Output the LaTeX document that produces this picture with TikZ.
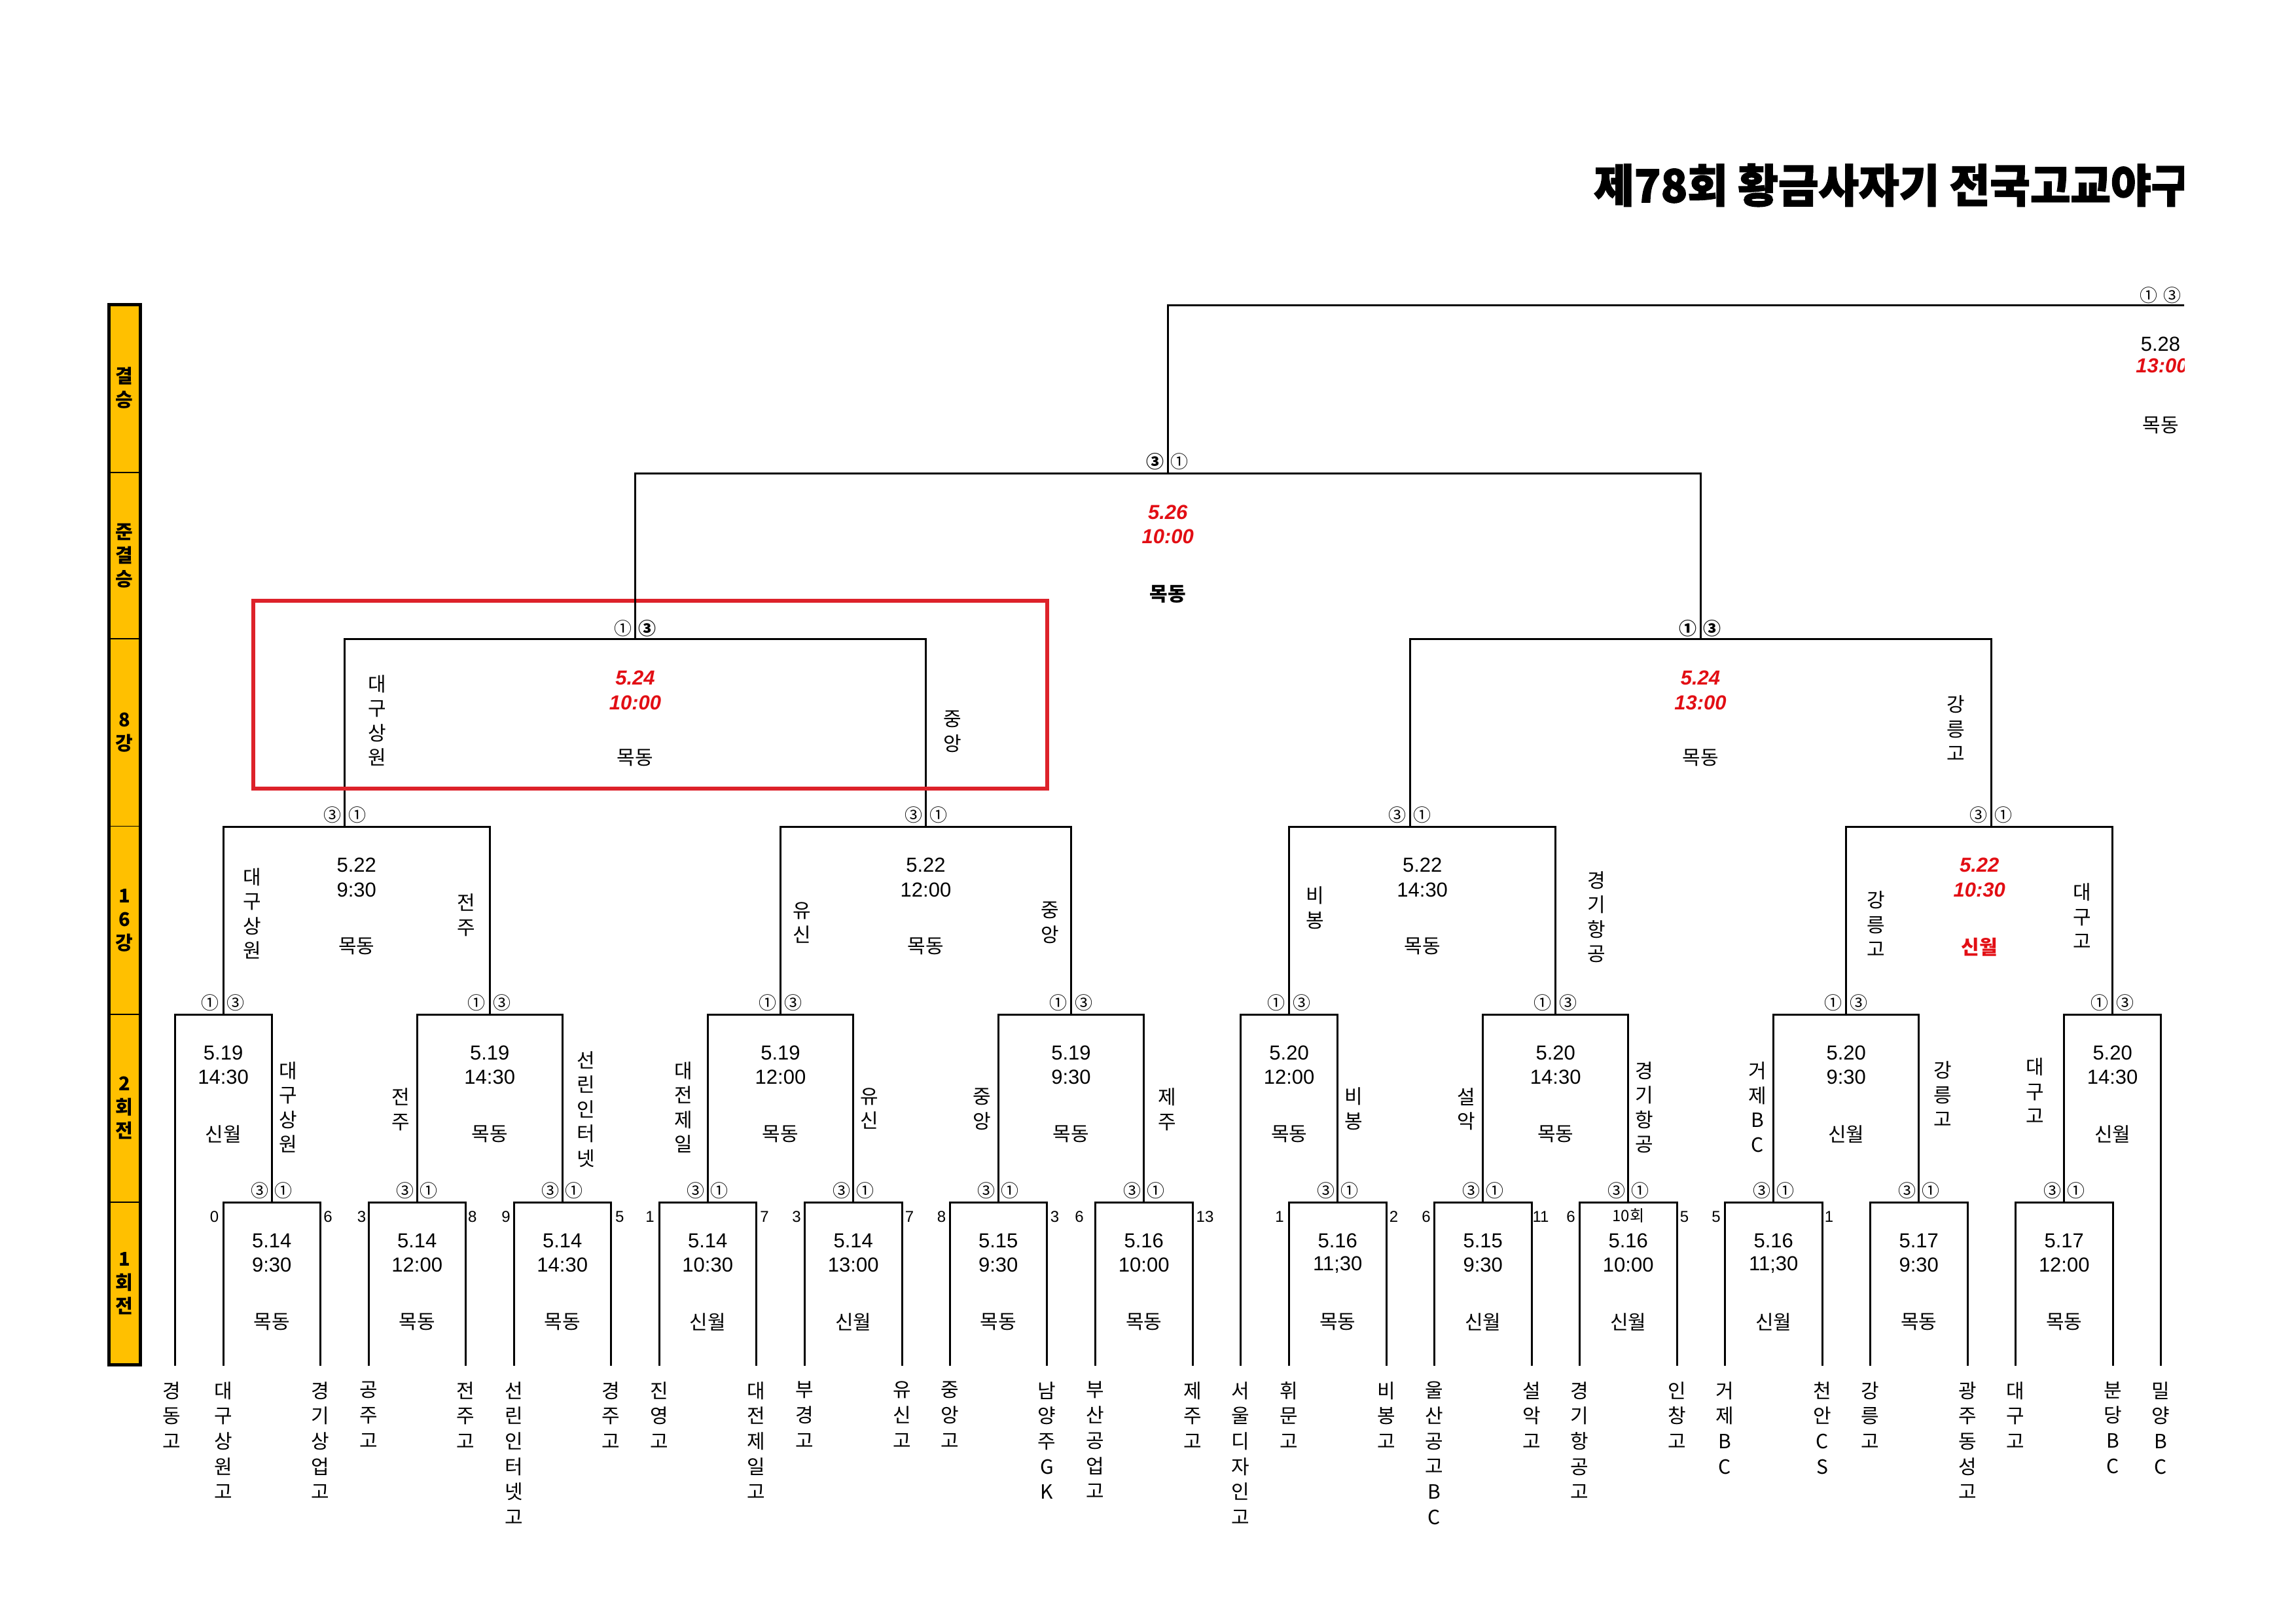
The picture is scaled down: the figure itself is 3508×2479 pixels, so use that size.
\documentclass[tikz,border=0pt]{standalone}
\usepackage{fontspec}
\setmainfont{Liberation Sans}
\newfontfamily\kr{Noto Sans CJK KR}
\newfontfamily\krh{Noto Sans CJK KR}[BoldFeatures={FakeBold=2}]
\definecolor{gold}{RGB}{255,192,0}
\definecolor{redbox}{RGB}{221,34,42}
\definecolor{redtxt}{RGB}{226,14,20}
\tikzset{
  br/.style={line width=3pt, line cap=rect},
  dt/.style={inner sep=0pt, font=\fontsize{31}{37}\selectfont},
  rdt/.style={inner sep=0pt, text=redtxt, font=\fontsize{31}{37}\selectfont\bfseries\itshape},
  ven/.style={inner sep=0pt, font=\kr\fontsize{30}{36}\selectfont},
  vlab/.style={inner sep=0pt, align=center, font=\kr\fontsize{30}{37.5}\selectfont},
  tname/.style={inner sep=0pt, align=center, anchor=north, font=\kr\fontsize{30}{38.7}\selectfont},
  sc/.style={inner sep=0pt, font=\fontsize{24}{26}\selectfont},
  cn/.style={inner sep=0pt, font=\kr\fontsize{27}{28}\selectfont},
  cnb/.style={inner sep=0pt, font=\kr\bfseries\fontsize{27}{28}\selectfont},
  side/.style={inner sep=0pt, align=center, font=\kr\bfseries\fontsize{29}{36}\selectfont},
}
\begin{document}
\begin{tikzpicture}[x=1pt,y=-1pt]
\useasboundingbox (0,0) rectangle (3508,2479);
\begin{scope}
\clip (0,0) rectangle (3337,2479);
% ---------- side bar ----------
\fill[gold] (166,465) rectangle (214.5,2085);
\foreach \yy in {722,976,1262.5,1550,1837} \draw[line width=1.5pt] (166,\yy) -- (214.5,\yy);
\draw[line width=5pt] (166,465) rectangle (214.5,2085);
\node[side] (s1) at (190,593) {결\\승};
\node[side] (s2) at (190,849) {준\\결\\승};
\node[side] (s3) at (190,1119) {8\\강};
\node[side] (s4) at (190,1406) {1\\6\\강};
\node[side] (s5) at (190,1693) {2\\회\\전};
\node[side] (s6) at (190,1961) {1\\회\\전};
% ---------- title ----------
\node[anchor=west, inner sep=0pt, font=\krh\bfseries\fontsize{62}{62}\selectfont] (title) at (2435,283) {\scalebox{1.08}[1.12]{제78회 황금사자기 전국고교야구}};
% ---------- round 1 ----------
\foreach \i/\xl/\da/\ti/\ve in {1/341/5.14/9:30/목동, 2/563/5.14/12:00/목동, 3/785/5.14/14:30/목동,
  4/1007/5.14/10:30/신월, 5/1229.5/5.14/13:00/신월, 6/1451/5.15/9:30/목동, 7/1673.5/5.16/10:00/목동,
  8/1969.5/5.16/11;30/목동, 9/2191.5/5.15/9:30/신월, 10/2413.5/5.16/10:00/신월, 11/2635.5/5.16/11;30/신월,
  12/2857.5/5.17/9:30/목동, 13/3079.5/5.17/12:00/목동}{
  \pgfmathsetmacro\xr{\xl+148.5}
  \pgfmathsetmacro\xc{\xl+74.25}
  \draw[br] (\xl,2085) -- (\xl,1837) -- (\xr,1837) -- (\xr,2085);
  \node[dt] (a\i d) at (\xc,1896) {\da};
  \node[dt] (a\i t) at (\xc,1933) {\ti};
  \node[ven] (a\i v) at (\xc,2020) {\ve};
  \node[cn] (a\i m3) at (\xc-18,1819) {③};
  \node[cn] (a\i m1) at (\xc+18,1819) {①};
}
\foreach \k/\x/\s in {1/327.5/0, 2/501/6, 3/552.5/3, 4/721.7/8, 5/773/9, 6/946.7/5, 7/993/1, 8/1168/7,
  9/1217/3, 10/1389.5/7, 11/1438.5/8, 12/1611.5/3, 13/1649/6, 14/1841/13, 15/1955/1, 16/2129.6/2,
  17/2179/6, 18/2354/11, 19/2400/6, 20/2573.5/5, 21/2622/5, 22/2794.6/1}{
  \node[sc] (sc\k) at (\x,1859) {\s};
}
\node[inner sep=0pt, font=\kr\fontsize{24}{26}\selectfont] (extra) at (2487.75,1857) {10회};
% ---------- round 2 ----------
\foreach \i/\xl/\xr/\yl/\yr/\da/\ti/\ve in {1/267/415.25/2085/1837/5.19/14:30/신월,
  2/637.25/859.25/1837/1837/5.19/14:30/목동, 3/1081.25/1303.75/1837/1837/5.19/12:00/목동,
  4/1525.25/1747.75/1837/1837/5.19/9:30/목동, 5/1895.5/2043.75/2085/1837/5.20/12:00/목동,
  6/2265.75/2487.75/1837/1837/5.20/14:30/목동, 7/2709.75/2931.75/1837/1837/5.20/9:30/신월,
  8/3153.75/3301.5/1837/2085/5.20/14:30/신월}{
  \pgfmathsetmacro\xc{(\xl+\xr)/2}
  \draw[br] (\xl,\yl) -- (\xl,1550) -- (\xr,1550) -- (\xr,\yr);
  \node[dt] (b\i d) at (\xc,1609) {\da};
  \node[dt] (b\i t) at (\xc,1646) {\ti};
  \node[ven] (b\i v) at (\xc,1733) {\ve};
  \node[cn] (b\i m1) at (\xc-20,1532) {①};
  \node[cn] (b\i m3) at (\xc+19,1532) {③};
}
\node[vlab] (l21) at (440,1692) {대\\구\\상\\원};
\node[vlab] (l22) at (612,1695) {전\\주};
\node[vlab] (l23) at (895,1695) {선\\린\\인\\터\\넷};
\node[vlab] (l24) at (1044.5,1692) {대\\전\\제\\일};
\node[vlab] (l25) at (1328,1694) {유\\신};
\node[vlab] (l26) at (1500.5,1695) {중\\앙};
\node[vlab] (l27) at (1783.7,1695) {제\\주};
\node[vlab] (l28) at (2068.4,1694) {비\\봉};
\node[vlab] (l29) at (2240.6,1695) {설\\악};
\node[vlab] (l210) at (2512,1692) {경\\기\\항\\공};
\node[vlab] (l211) at (2685,1692) {거\\제\\B\\C};
\node[vlab] (l212) at (2968.7,1672) {강\\릉\\고};
\node[vlab] (l213) at (3109,1667) {대\\구\\고};
% ---------- round of 16 ----------
\foreach \i/\xl/\xr/\xu/\da/\ti/\ve in {1/341.1/748.25/526.6/5.22/9:30/목동,
  2/1192.5/1636.5/1414.5/5.22/12:00/목동, 3/1969.6/2376.75/2154/5.22/14:30/목동}{
  \pgfmathsetmacro\xc{(\xl+\xr)/2}
  \draw[br] (\xl,1550) -- (\xl,1263) -- (\xr,1263) -- (\xr,1550);
  \node[dt] (c\i d) at (\xc,1322) {\da};
  \node[dt] (c\i t) at (\xc,1360) {\ti};
  \node[ven] (c\i v) at (\xc,1446) {\ve};
  \node[cn] (c\i m3) at (\xu-19,1245) {③};
  \node[cn] (c\i m1) at (\xu+19,1245) {①};
}
\draw[br] (2820.75,1550) -- (2820.75,1263) -- (3227.6,1263) -- (3227.6,1550);
\node[rdt] (c4d) at (3024.2,1322) {5.22};
\node[rdt] (c4t) at (3024.2,1360) {10:30};
\node[ven, text=redtxt, font=\kr\bfseries\fontsize{30}{36}\selectfont] (c4v) at (3024.2,1447) {신월};
\node[cn] (c4m3) at (3042-19,1245) {③};
\node[cn] (c4m1) at (3042+19,1245) {①};
\node[vlab] (l31) at (385,1396) {대\\구\\상\\원};
\node[vlab] (l32) at (712.4,1398) {전\\주};
\node[vlab] (l33) at (1225,1410) {유\\신};
\node[vlab] (l34) at (1604,1410) {중\\앙};
\node[vlab] (l35) at (2009,1387) {비\\봉};
\node[vlab] (l36) at (2439,1401) {경\\기\\항\\공};
\node[vlab] (l37) at (2866,1412) {강\\릉\\고};
\node[vlab] (l38) at (3181,1400) {대\\구\\고};
% ---------- quarter finals ----------
\draw[br] (526.6,1263) -- (526.6,976) -- (1414.5,976) -- (1414.5,1263);
\draw[br] (2154,1263) -- (2154,976) -- (3042,976) -- (3042,1263);
\node[rdt] (d1d) at (970.5,1036) {5.24};
\node[rdt] (d1t) at (970.5,1074) {10:00};
\node[ven] (d1v) at (970.5,1158) {목동};
\node[cn] (d1m1) at (970.5-19,960) {①};
\node[cnb] (d1m3) at (970.5+18,960) {③};
\node[rdt] (d2d) at (2598,1036) {5.24};
\node[rdt] (d2t) at (2598,1074) {13:00};
\node[ven] (d2v) at (2598,1158) {목동};
\node[cnb] (d2m1) at (2598-19,960) {①};
\node[cnb] (d2m3) at (2598+18,960) {③};
\node[vlab] (l41) at (576,1101) {대\\구\\상\\원};
\node[vlab] (l42) at (1455,1118) {중\\앙};
\node[vlab] (l43) at (2988,1113) {강\\릉\\고};
\draw[redbox, line width=6pt] (387,918) rectangle (1600,1205);
% ---------- semi final ----------
\draw[br] (970.5,976) -- (970.5,723) -- (2598,723) -- (2598,976);
\node[rdt] (e1d) at (1784.25,783) {5.26};
\node[rdt] (e1t) at (1784.25,820) {10:00};
\node[ven, font=\kr\bfseries\fontsize{30}{36}\selectfont] (e1v) at (1784.25,908) {목동};
\node[cnb] (e1m3) at (1784.25-19,705) {③};
\node[cn] (e1m1) at (1784.25+18,705) {①};
% ---------- final ----------
\draw[br] (1784.25,723) -- (1784.25,466) -- (3400,466);
\node[cn] (f1) at (3283,451) {①};
\node[cn] (f3) at (3319,451) {③};
\node[dt] (fd) at (3301,526) {5.28};
\node[rdt] (ft) at (3303,559) {13:00};
\node[ven] (fv) at (3301,650) {목동};
% ---------- team names ----------
\foreach \k/\x/\nm in {1/262/{경\\동\\고}, 2/341/{대\\구\\상\\원\\고}, 3/489.5/{경\\기\\상\\업\\고},
  4/563/{공\\주\\고}, 5/711.5/{전\\주\\고}, 6/785/{선\\린\\인\\터\\넷\\고}, 7/933.5/{경\\주\\고},
  8/1007/{진\\영\\고}, 9/1155.5/{대\\전\\제\\일\\고}, 10/1229.5/{부\\경\\고}, 11/1378/{유\\신\\고},
  12/1451/{중\\앙\\고}, 13/1599.5/{남\\양\\주\\G\\K}, 14/1673.5/{부\\산\\공\\업\\고}, 15/1822/{제\\주\\고},
  16/1895.5/{서\\울\\디\\자\\인\\고}, 17/1969.5/{휘\\문\\고}, 18/2118/{비\\봉\\고},
  19/2191.5/{울\\산\\공\\고\\B\\C}, 20/2340/{설\\악\\고}, 21/2413.5/{경\\기\\항\\공\\고},
  22/2562/{인\\창\\고}, 23/2635.5/{거\\제\\B\\C}, 24/2784/{천\\안\\C\\S}, 25/2857.5/{강\\릉\\고},
  26/3006/{광\\주\\동\\성\\고}, 27/3079.5/{대\\구\\고}, 28/3228/{분\\당\\B\\C}, 29/3301.5/{밀\\양\\B\\C}}{
  \node[tname] (t\k) at (\x,2111) {\nm};
}
\end{scope}
\end{tikzpicture}
\end{document}
